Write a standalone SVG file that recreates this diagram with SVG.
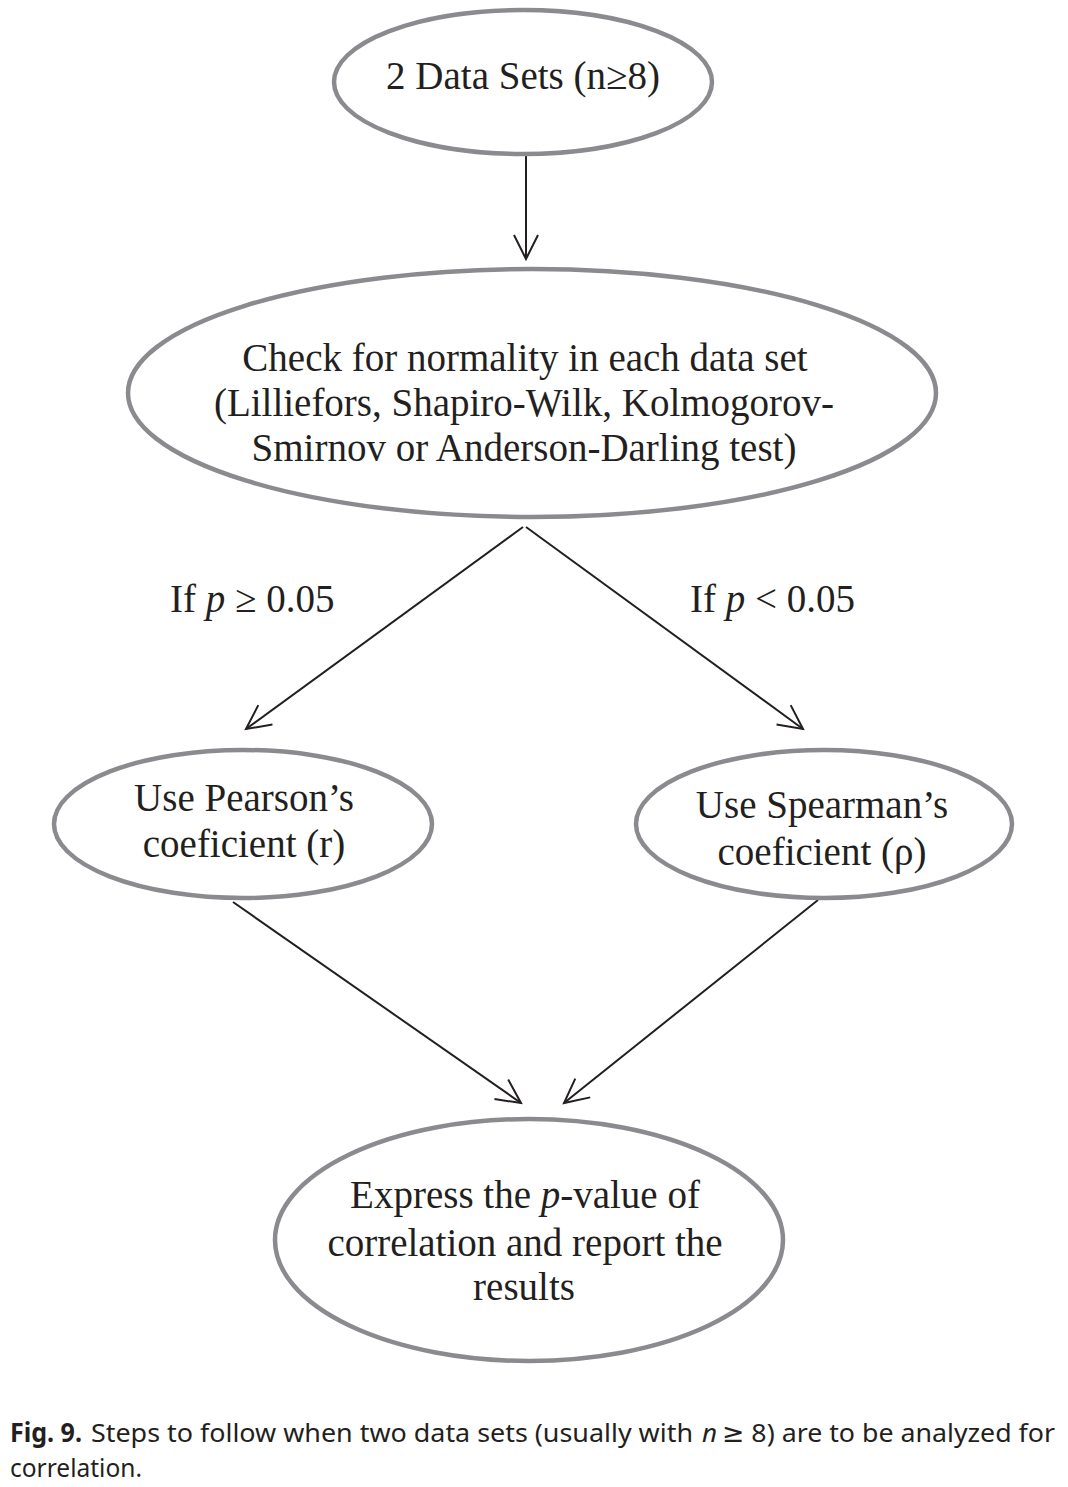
<svg xmlns="http://www.w3.org/2000/svg" width="1068" height="1487" viewBox="0 0 1068 1487">
<style>
.node{fill:#fff;stroke:#8b8b8f;stroke-width:4.5}
.t{font-family:"Liberation Serif","Times New Roman",serif;font-size:39px;fill:#231f20;text-anchor:middle}
.lbl{font-family:"Liberation Serif","Times New Roman",serif;font-size:39px;fill:#231f20}
.e{stroke:#231f20;stroke-width:2;fill:none;marker-end:url(#arr)}
.cap{font-family:"Noto Sans","DejaVu Sans",sans-serif;font-size:26px;fill:#231f20}
</style>
<defs>
<marker id="arr" markerUnits="userSpaceOnUse" markerWidth="40" markerHeight="40" viewBox="-30 -20 40 40" refX="0" refY="0" orient="auto">
<path d="M-24,-12 L0,0 L-24,12" fill="none" stroke="#231f20" stroke-width="2"/>
</marker>
</defs>
<rect width="1068" height="1487" fill="#fff"/>
<g id="connectors">
<line class="e" x1="526" y1="150" x2="526" y2="259"/>
<line class="e" x1="523" y1="527" x2="246" y2="729"/>
<line class="e" x1="526" y1="527" x2="803" y2="729"/>
<line class="e" x1="233" y1="902" x2="521" y2="1103"/>
<line class="e" x1="818" y1="900" x2="564" y2="1103"/>
</g>
<g id="n1">
<ellipse class="node" cx="523" cy="82" rx="189" ry="72"/>
<text class="t" x="523" y="89">2 Data Sets (n≥8)</text>
</g>
<g id="n2">
<ellipse class="node" cx="532" cy="393" rx="404" ry="124"/>
<text class="t" x="525" y="371">Check for normality in each data set</text>
<text class="t" x="524" y="416">(Lilliefors, Shapiro-Wilk, Kolmogorov-</text>
<text class="t" x="524" y="461">Smirnov or Anderson-Darling test)</text>
</g>
<g id="labels">
<text class="lbl" x="170" y="612">If <tspan font-style="italic">p</tspan> ≥ 0.05</text>
<text class="lbl" x="690" y="612">If <tspan font-style="italic">p</tspan> &lt; 0.05</text>
</g>
<g id="n3">
<ellipse class="node" cx="243" cy="824" rx="189" ry="74"/>
<text class="t" x="244" y="811">Use Pearson’s</text>
<text class="t" x="244" y="857">coeficient (r)</text>
</g>
<g id="n4">
<ellipse class="node" cx="824" cy="824" rx="188" ry="74"/>
<text class="t" x="822" y="818">Use Spearman’s</text>
<text class="t" x="822" y="865">coeficient (ρ)</text>
</g>
<g id="n5">
<ellipse class="node" cx="529" cy="1240" rx="254" ry="121"/>
<text class="t" x="525" y="1208">Express the <tspan font-style="italic">p</tspan>-value of</text>
<text class="t" x="525" y="1256">correlation and report the</text>
<text class="t" x="524" y="1300">results</text>
</g>
<g id="caption">
<text class="cap" x="10" y="1442" font-weight="bold" textLength="72" lengthAdjust="spacingAndGlyphs">Fig. 9.</text>
<text class="cap" x="91" y="1442" textLength="602" lengthAdjust="spacingAndGlyphs">Steps to follow when two data sets (usually with</text>
<text class="cap" x="702" y="1442" font-style="italic">n</text>
<text class="cap" x="722" y="1442" textLength="333" lengthAdjust="spacingAndGlyphs">≥ 8) are to be analyzed for</text>
<text class="cap" x="10" y="1477" textLength="132" lengthAdjust="spacingAndGlyphs">correlation.</text>
</g>
</svg>
